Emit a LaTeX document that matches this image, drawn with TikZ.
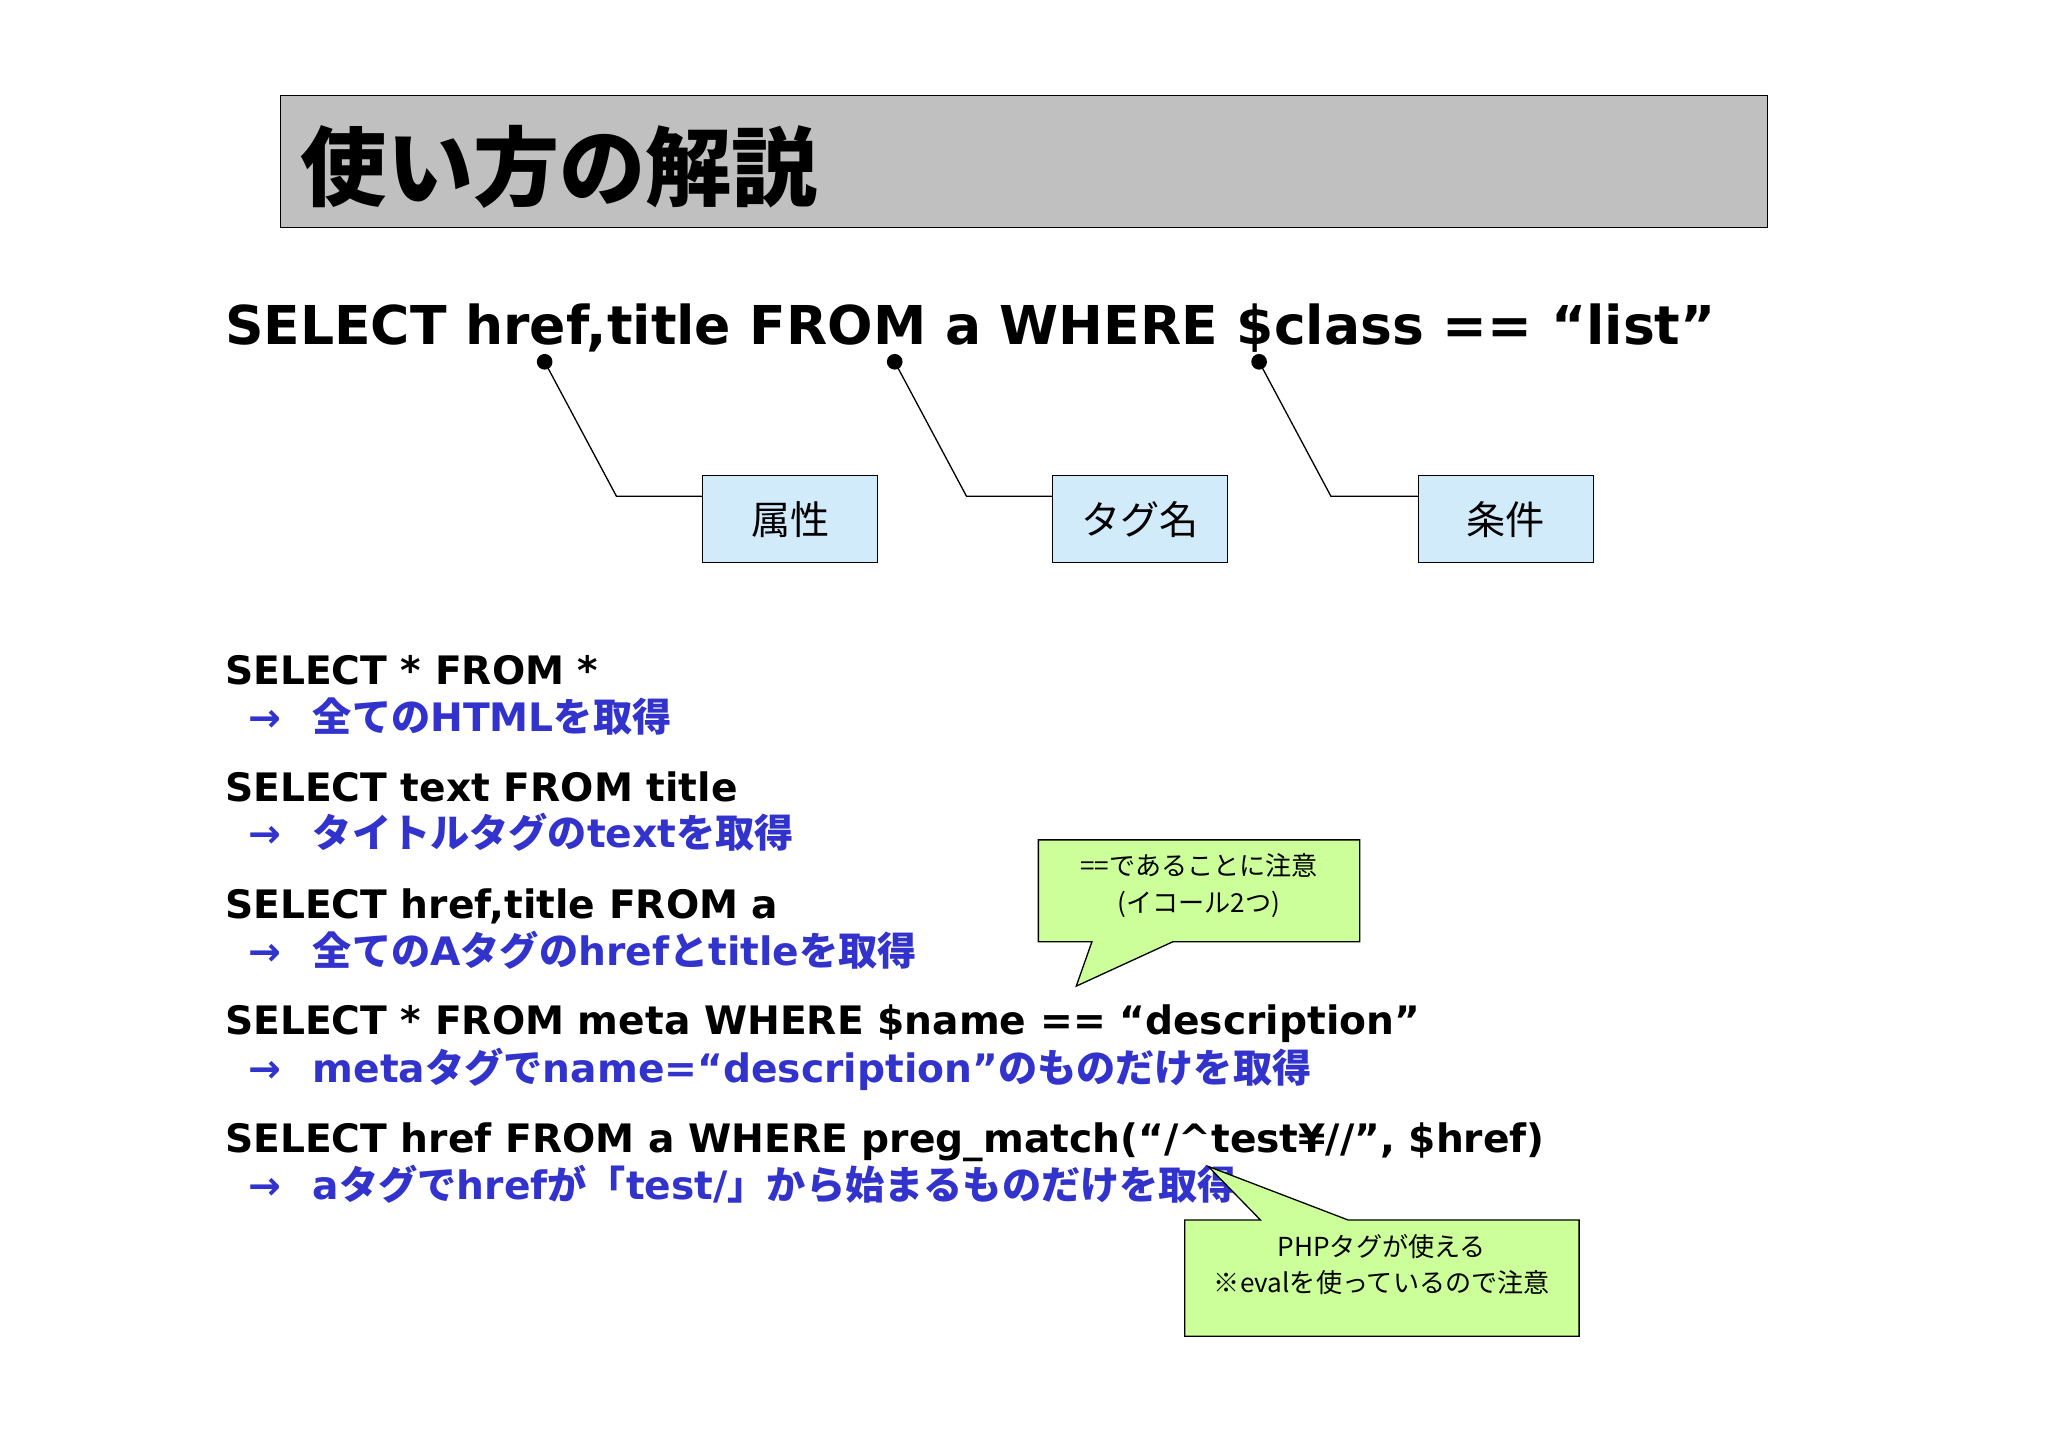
\documentclass[tikz,border=0pt]{standalone}
\usepackage{fontspec}
\setmainfont{DejaVu Sans}
\newfontfamily\jp{Noto Sans CJK JP}
\newfontfamily\sq{DejaVu Sans}
\newcommand{\J}[1]{{\jp\bfseries #1}}
\newcommand{\Jn}[1]{{\jp #1}}
\definecolor{tgray}{RGB}{192,192,192}
\definecolor{lblue}{RGB}{210,235,250}
\definecolor{lgreen}{RGB}{204,255,153}
\definecolor{tblue}{RGB}{50,50,205}
\tikzset{
 sql/.style={anchor=base west,inner sep=0pt,font=\sq\bfseries\fontsize{15}{18}\selectfont},
 expl/.style={anchor=base west,inner sep=0pt,text=tblue,font=\sq\bfseries\fontsize{15}{18}\selectfont},
 lbl/.style={draw=black,fill=lblue,minimum width=67pt,minimum height=33.5pt,inner sep=0pt,font=\jp\fontsize{15}{18}\selectfont},
 lead/.style={draw=black,line width=0.5pt},
 callout/.style={draw=black,fill=lgreen,line width=0.5pt},
 ctext/.style={align=center,inner sep=0pt,font=\jp\fontsize{10}{14}\selectfont}
}
\begin{document}
\begin{tikzpicture}[x=0.5pt,y=-0.5pt]
\useasboundingbox[fill=white] (0,0) rectangle (1568,1108);
% title
\node[draw=black,fill=tgray,minimum width=569.5pt,minimum height=50.5pt,inner sep=0pt,anchor=north west] (title) at (214,73) {};
\node[anchor=west,inner sep=0pt,font=\jp\bfseries\fontsize{33}{36}\selectfont] (tt) at (230,128) {使い方の解説};
% main sql
\node[anchor=base west,inner sep=0pt,font=\sq\bfseries\fontsize{20.5}{24}\selectfont] (main) at (172,264) {SELECT href,title FROM a WHERE \$class == “list”};
\coordinate (d1) at (417,277); \coordinate (d2) at (685,277); \coordinate (d3) at (964,277);
\coordinate (e1) at (472,380); \coordinate (e2) at (740,380); \coordinate (e3) at (1019,380);
\node[lbl] (b1) at (605,397.5) {属性};
\node[lbl] (b2) at (873,397.5) {タグ名};
\node[lbl] (b3) at (1153,397.5) {条件};
\foreach \i in {1,2,3} {
 \fill (d\i) circle (6);
 \draw[lead] (d\i) -- (e\i) -- (b\i.west |- e\i) ++(-11,0);
}
\draw[lead] (e1) -- (527,380); \draw[lead] (e2) -- (795,380); \draw[lead] (e3) -- (1074,380);
% list
\node[sql] (s1) at (172,524) {SELECT * FROM *};
\node[expl] (a1) at (190,560) {→\hspace{12pt}\J{全ての}HTML\J{を取得}};
\node[sql] (s2) at (172,614) {SELECT text FROM title};
\node[expl] (a2) at (190,649) {→\hspace{12pt}\J{タイトルタグの}text\J{を取得}};
\node[sql] (s3) at (172,703) {SELECT href,title FROM a};
\node[expl] (a3) at (190,739) {→\hspace{12pt}\J{全ての}A\J{タグの}href\J{と}title\J{を取得}};
\node[sql] (s4) at (172,792) {SELECT * FROM meta WHERE \$name == “description”};
\node[expl] (a4) at (190,829) {→\hspace{12pt}meta\J{タグで}name=“description”\J{のものだけを取得}};
\node[sql] (s5) at (172,882) {SELECT href FROM a WHERE preg\_match(“/\^{}test¥//”, \$href)};
\node[expl] (a5) at (190,918) {→\hspace{12pt}a\J{タグで}href\J{が「}test/\J{」から始まるものだけを取得}};
% callouts
\draw[callout] (795,643) -- (1041,643) -- (1041,721) -- (898,721) -- (824,755) -- (836,721) -- (795,721) -- cycle;
\node[ctext] (c1) at (918,678) {==であることに注意\\(イコール2つ)};
\draw[callout] (907,934) -- (965,934) -- (925,893) -- (1032,934) -- (1209,934) -- (1209,1023) -- (907,1023) -- cycle;
\node[ctext] (c2) at (1058,968) {PHPタグが使える\\※evalを使っているので注意};
\end{tikzpicture}
\end{document}
